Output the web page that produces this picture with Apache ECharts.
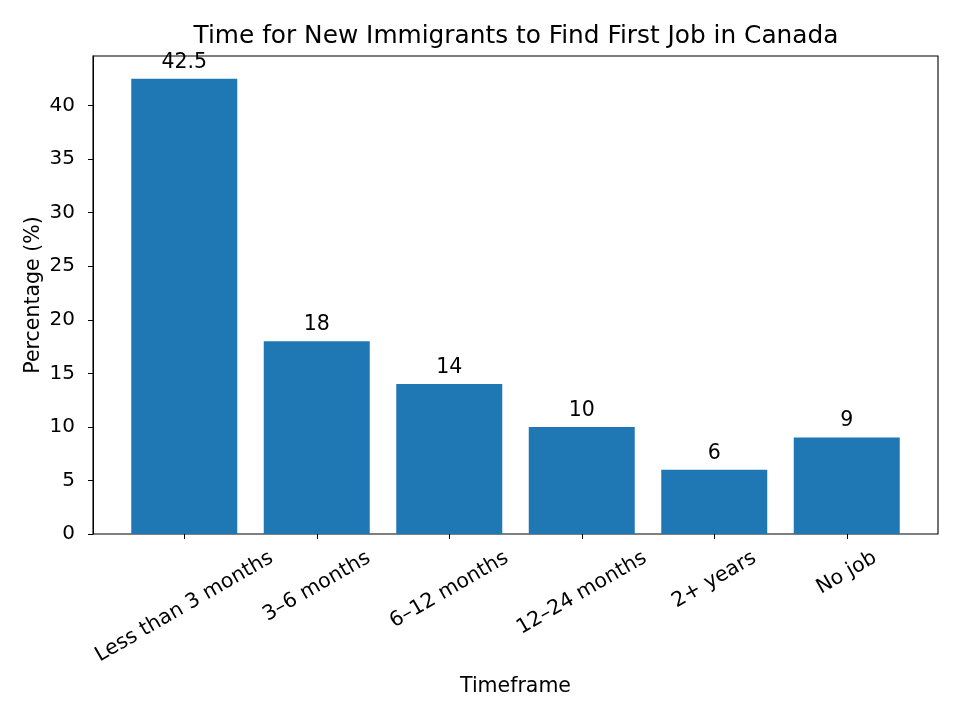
<!DOCTYPE html>
<html>
<head>
<meta charset="utf-8">
<script src="https://cdn.jsdelivr.net/npm/echarts@6/dist/echarts.min.js"></script>
<style>
  html, body { margin: 0; padding: 0; background: #fff; }
  #chart { width: 960px; height: 720px; }
</style>
</head>
<body>
<div id="chart"></div>
<script>
var categories = ['Less than 3 months', '3–6 months', '6–12 months', '12–24 months', '2+ years', 'No job'];
var percentages = [42.5, 18, 14, 10, 6, 9];
var yTicks = [0, 5, 10, 15, 20, 25, 30, 35, 40];

var chart = echarts.init(document.getElementById('chart'));
var font = 'DejaVu Sans';
var yMax = 44.625;
var labelSize = 20.5;

// matplotlib centres rotated tick labels under the tick, so nudge each one
// down by an amount that depends on its own width
var ctx = document.createElement('canvas').getContext('2d');
ctx.font = labelSize + 'px "' + font + '"';
var baseMargin = 20;
var rich = {};
categories.forEach(function (c, i) {
    var w = ctx.measureText(c).width;
    var drop = 22.5 + w / 4 - baseMargin;
    rich['c' + i] = {
        fontFamily: font, fontSize: labelSize, color: '#000',
        padding: [drop * Math.sqrt(3), drop, 0, 0]
    };
});

var option = {
    animation: false,
    textStyle: { fontFamily: font },
    title: {
        text: 'Time for New Immigrants to Find First Job in Canada',
        left: 511,
        textAlign: 'center',
        top: 19,
        textStyle: { fontFamily: font, fontSize: 24.8, fontWeight: 'normal', color: '#000' }
    },
    grid: [
        // frame + y axis
        { left: 93, right: 22, top: 56, bottom: 186, show: true, borderColor: '#000', borderWidth: 1.1, backgroundColor: 'transparent' },
        // bars, inset like matplotlib margins
        { left: 118, right: 47, top: 56, bottom: 186 }
    ],
    xAxis: [
        {
            gridIndex: 0, type: 'value', min: 0, max: 1, show: false
        },
        {
            gridIndex: 1,
            type: 'category',
            data: categories,
            name: 'Timeframe',
            nameLocation: 'middle',
            nameGap: 142,
            nameMoveOverlap: false,
            nameTextStyle: { fontFamily: font, fontSize: labelSize, color: '#000' },
            axisLine: { show: false },
            axisTick: { show: true, alignWithLabel: true, length: 5, lineStyle: { color: '#000' } },
            axisLabel: {
                rotate: 30, interval: 0, margin: baseMargin,
                align: 'center', verticalAlign: 'middle',
                fontFamily: font, fontSize: labelSize, color: '#000',
                formatter: function (v, i) { return '{c' + i + '|' + v + '}'; },
                rich: rich
            }
        }
    ],
    yAxis: [
        {
            gridIndex: 0,
            type: 'value',
            min: 0,
            max: yMax,
            interval: 5,
            name: 'Percentage (%)',
            nameLocation: 'middle',
            nameGap: 49,
            nameMoveOverlap: false,
            nameTextStyle: { fontFamily: font, fontSize: labelSize, color: '#000' },
            splitLine: { show: false },
            axisLine: { show: true, lineStyle: { color: '#000' } },
            axisTick: { show: true, length: 5, lineStyle: { color: '#000' } },
            axisLabel: {
                fontFamily: font, fontSize: 20, color: '#000', margin: 18,
                showMaxLabel: false,
                formatter: function (v) { return yTicks.indexOf(v) >= 0 ? String(v) : ''; }
            }
        },
        {
            gridIndex: 1, type: 'value', min: 0, max: yMax, show: false
        }
    ],
    series: [{
        type: 'bar',
        xAxisIndex: 1,
        yAxisIndex: 1,
        data: percentages,
        barWidth: '80%',
        itemStyle: { color: '#1f77b4' },
        label: {
            show: true,
            position: 'top',
            distance: 6,
            fontFamily: font,
            fontSize: labelSize,
            color: '#000'
        }
    }]
};

chart.setOption(option);
</script>
</body>
</html>
